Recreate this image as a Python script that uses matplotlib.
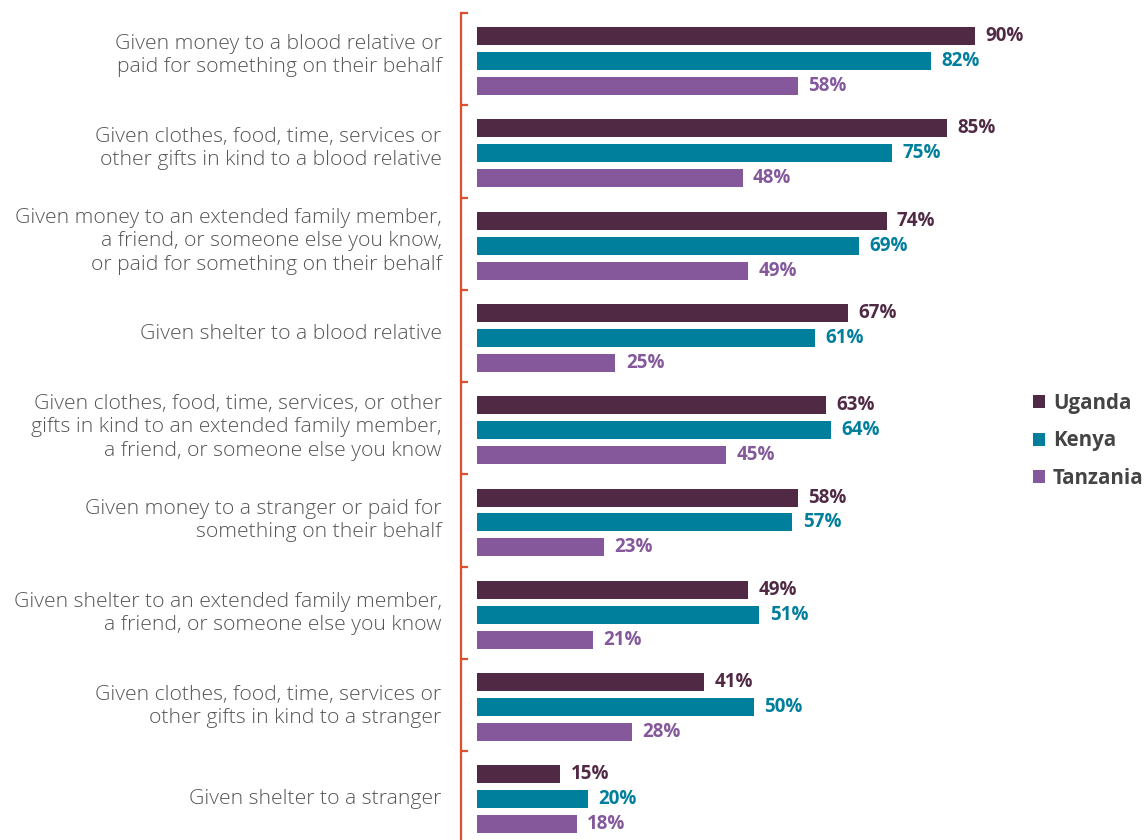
import numpy as np
import matplotlib.pyplot as plt

categories = [
    "Given money to a blood relative or\npaid for something on their behalf",
    "Given clothes, food, time, services or\nother gifts in kind to a blood relative",
    "Given money to an extended family member,\na friend, or someone else you know,\nor paid for something on their behalf",
    "Given shelter to a blood relative",
    "Given clothes, food, time, services, or other\ngifts in kind to an extended family member,\na friend, or someone else you know",
    "Given money to a stranger or paid for\nsomething on their behalf",
    "Given shelter to an extended family member,\na friend, or someone else you know",
    "Given clothes, food, time, services or\nother gifts in kind to a stranger",
    "Given shelter to a stranger",
]
countries = ["Uganda", "Kenya", "Tanzania"]
uganda = [90, 85, 74, 67, 63, 58, 49, 41, 15]
kenya = [82, 75, 69, 61, 64, 57, 51, 50, 20]
tanzania = [58, 48, 49, 25, 45, 23, 21, 28, 18]

colors = ["#502a45", "#007f9c", "#84589b"]
axis_red = "#e04e2b"

plt.rcParams['font.family'] = ['Open Sans', 'DejaVu Sans']

W, H = 1147, 840
fig = plt.figure(figsize=(W / 100, H / 100), dpi=100)
ax = fig.add_axes([461 / W, 0, (1000 - 461) / W, (840 - 13) / H])

y = np.arange(len(categories))
step = 0.27
bar_h = 0.195
for k, (vals, c) in enumerate(zip([uganda, kenya, tanzania], colors)):
    pos = y + (k - 1) * step
    ax.barh(pos, vals, height=bar_h, color=c, label=countries[k])
    for p, v in zip(pos, vals):
        ax.annotate(f"{v}%", (v, p), xytext=(7.5, 0), textcoords="offset points",
                    va="center", ha="left", color=c, fontsize=13.5,
                    fontweight="bold", annotation_clip=False)

ax.set_xlim(-2.9, 94.5)
ax.set_ylim(8.44, -0.509)

for s in ["top", "right", "bottom"]:
    ax.spines[s].set_visible(False)
ax.spines["left"].set_color(axis_red)
ax.spines["left"].set_linewidth(1.6)

ax.set_xticks([])
ax.set_yticks(np.arange(len(categories)) - 0.52)
ax.set_yticklabels([])
ax.tick_params(axis="y", direction="in", length=5, width=1.6, color=axis_red)

# category labels sit slightly apart from the bar groups
label_y = np.linspace(-0.06, 8.0, len(categories))
for ly, lab in zip(label_y, categories):
    ax.text(-0.036, ly, lab, transform=ax.get_yaxis_transform(), ha="right",
            va="center", fontsize=15.2, color="#555555", linespacing=1.25,
            fontweight="light")

leg = fig.legend(loc="upper left", bbox_to_anchor=(1014 / W, 1 - 374 / H),
                 frameon=False, handlelength=0.6, handleheight=0.6,
                 handletextpad=0.4, labelspacing=0.82,
                 prop={"size": 14.8, "weight": "bold"})
for t in leg.get_texts():
    t.set_color("#444444")

fig.savefig("out.png", dpi=100)
